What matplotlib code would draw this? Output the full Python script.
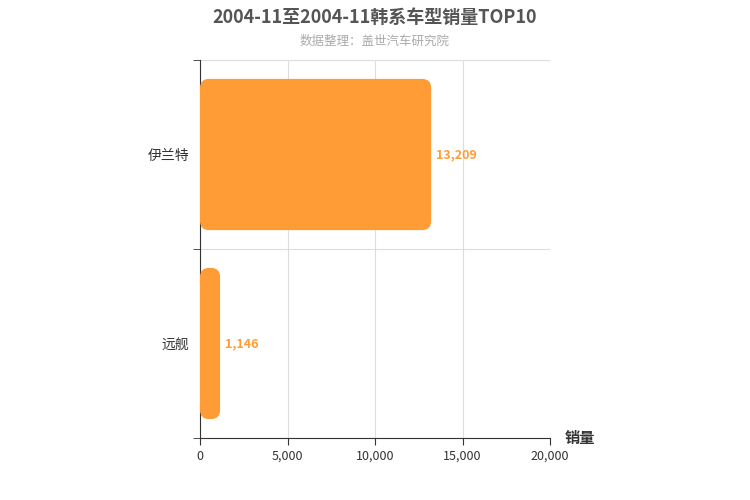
import matplotlib
matplotlib.use("Agg")
import matplotlib.pyplot as plt
from matplotlib.patches import FancyBboxPatch

plt.rcParams['font.family'] = ['Noto Sans CJK SC', 'DejaVu Sans']

categories = ['伊兰特', '远舰']
values = [13209, 1146]
xticks = [0, 5000, 10000, 15000, 20000]
xticklabels = ['0', '5,000', '10,000', '15,000', '20,000']

fig = plt.figure(figsize=(7.5, 5), dpi=100)
ax = fig.add_axes([200/750, 62/500, 350/750, 378/500])
ax.set_xlim(0, 20000)
ax.set_ylim(len(categories) - 0.5, -0.5)

color = '#ff9c36'
h = 0.8
px_x = 350 / 20000
px_y = 378 / len(categories)
r_px = 9
rx = r_px / px_x
ry = r_px / px_y
for i, v in enumerate(values):
    p = FancyBboxPatch((0, i - h/2), v, h,
                       boxstyle=f"round,pad=0,rounding_size={rx}",
                       mutation_aspect=ry/rx, fc=color, ec='none', zorder=3)
    ax.add_patch(p)
    ax.text(v + 300, i, f"{v:,}", va='center', ha='left', color=color,
            fontsize=9, fontweight='bold', zorder=4)

ax.set_xticks(xticks)
ax.set_xticklabels(xticklabels, fontsize=9, color='#333333')
ax.set_yticks(range(len(categories)))
ax.set_yticklabels(categories, fontsize=10, color='#333333')
ax.tick_params(axis='y', length=0, pad=8)
ax.tick_params(axis='x', length=5, color='#333333')
ax.set_yticks([-0.5, 0.5, 1.5], minor=True)
ax.tick_params(axis='y', which='minor', length=5, color='#333333')
ax.grid(axis='x', color='#dddddd', lw=0.8, zorder=0)
ax.grid(axis='y', which='minor', color='#dddddd', lw=0.8, zorder=0)
for s in ['top', 'right']:
    ax.spines[s].set_visible(False)
ax.spines['bottom'].set_color('#333333')
ax.spines['left'].set_color('#333333')

fig.text(0.5, 0.965, '2004-11至2004-11韩系车型销量TOP10', ha='center', va='center',
         fontsize=13, fontweight='bold', color='#555555')
fig.text(0.5, 0.918, '数据整理：盖世汽车研究院', ha='center', va='center',
         fontsize=9, color='#aaaaaa')
fig.text(565/750, 1 - 438/500, '销量', ha='left', va='center', fontsize=11,
         fontweight='bold', color='#333333')

fig.savefig('out.png', dpi=100)
